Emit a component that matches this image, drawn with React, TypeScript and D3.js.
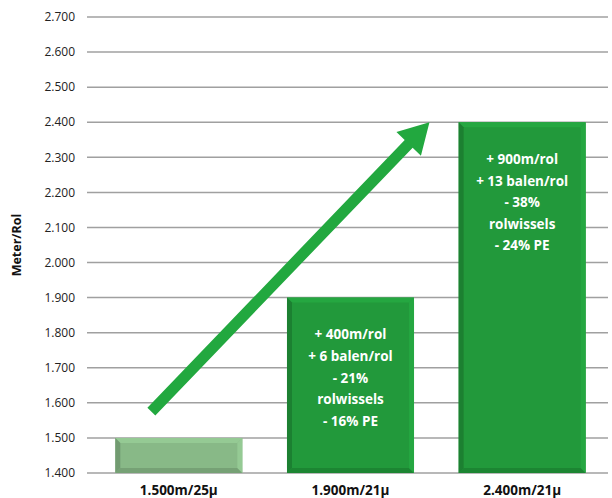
import React from 'react';
import * as d3 from 'd3';

const categories = ['1.500m/25µ', '1.900m/21µ', '2.400m/21µ'];
const values = [1500, 1900, 2400];
const barColors = ['#88b987', '#22993b', '#22993b'];
const barNotes = [
  [],
  ['+ 400m/rol', '+ 6 balen/rol', '- 21%', 'rolwissels', '- 16% PE'],
  ['+ 900m/rol', '+ 13 balen/rol', '- 38%', 'rolwissels', '- 24% PE'],
];
const yTicks = [1400, 1500, 1600, 1700, 1800, 1900, 2000, 2100, 2200, 2300, 2400, 2500, 2600, 2700];
// arrow from/to as [category position, value]
const arrowFrom: [number, number] = [-0.16, 1575];
const arrowTo: [number, number] = [1.46, 2400];

const W = 612;
const H = 498;
const font = '"Open Sans", "Noto Sans", sans-serif';
const fmt = (v: number) => d3.format(',')(v).replace(',', '.');

export default function App() {
  const y = d3.scaleLinear().domain([1400, 2700]).range([473, 17]);
  const x = d3.scaleBand<string>().domain(categories).range([93, 608]).paddingInner(0.26).paddingOuter(0.13);
  const pos = d3.scaleLinear().domain([0, 2]).range([
    (x(categories[0]) ?? 0) + x.bandwidth() / 2,
    (x(categories[2]) ?? 0) + x.bandwidth() / 2,
  ]);
  const bw = x.bandwidth();
  const bev = 5;

  // arrow geometry
  const x1 = pos(arrowFrom[0]), y1 = y(arrowFrom[1]);
  const x2 = pos(arrowTo[0]), y2 = y(arrowTo[1]);
  const ang = Math.atan2(y2 - y1, x2 - x1);
  const len = Math.hypot(x2 - x1, y2 - y1);
  const headLen = 30, headW = 17, shaftW = 5.5;

  return (
    <svg width={W} height={H} style={{ display: 'block', position: 'absolute', left: 0, top: 0, background: '#fff' }}>
      {yTicks.map((t) => (
        <g key={t}>
          <line x1={87} x2={608} y1={y(t)} y2={y(t)} stroke="#a0a0a0" strokeWidth={1.5} />
          <text x={75} y={y(t)} dy="0.35em" textAnchor="end" fontFamily={font} fontSize={12} fill="#222">
            {fmt(t)}
          </text>
        </g>
      ))}
      <text
        transform={`translate(21,${(y(1400) + y(2700)) / 2}) rotate(-90)`}
        textAnchor="middle"
        fontFamily={font}
        fontSize={12.5}
        fontWeight="bold"
        fill="#111"
      >
        Meter/Rol
      </text>
      {categories.map((c, i) => {
        const bx = x(c) ?? 0;
        const top = y(values[i]);
        const bot = y(1400);
        const col = d3.color(barColors[i])!;
        const dark = col.darker(0.5).toString();
        const light = col.brighter(0.25).toString();
        return (
          <g key={c}>
            <rect x={bx} y={top} width={bw} height={bot - top} fill={barColors[i]} />
            <polygon points={`${bx},${top} ${bx + bw},${top} ${bx + bw - bev},${top + bev} ${bx + bev},${top + bev}`} fill={light} />
            <polygon points={`${bx},${top} ${bx + bev},${top + bev} ${bx + bev},${bot - bev} ${bx},${bot}`} fill={dark} />
            <polygon points={`${bx},${bot} ${bx + bev},${bot - bev} ${bx + bw - bev},${bot - bev} ${bx + bw},${bot}`} fill={dark} opacity={0.8} />
            <polygon points={`${bx + bw},${top} ${bx + bw},${bot} ${bx + bw - bev},${bot - bev} ${bx + bw - bev},${top + bev}`} fill={light} />
            {barNotes[i].map((n, j) => (
              <text
                key={j}
                x={bx + bw / 2}
                y={top + 37 + j * 21.6}
                dy="0.35em"
                textAnchor="middle"
                fontFamily={font}
                fontSize={13.5}
                fontWeight="bold"
                fill="#fff"
              >
                {n}
              </text>
            ))}
            <text x={bx + bw / 2} y={490} dy="0.35em" textAnchor="middle" fontFamily={font} fontSize={13.5} fontWeight="bold" fill="#111">
              {c}
            </text>
          </g>
        );
      })}
      <g transform={`translate(${x1},${y1}) rotate(${(ang * 180) / Math.PI})`}>
        <polygon
          points={`0,${-shaftW} ${len - headLen},${-shaftW} ${len - headLen},${-headW} ${len},0 ${len - headLen},${headW} ${len - headLen},${shaftW} 0,${shaftW}`}
          fill="#22a83f"
        />
      </g>
    </svg>
  );
}
